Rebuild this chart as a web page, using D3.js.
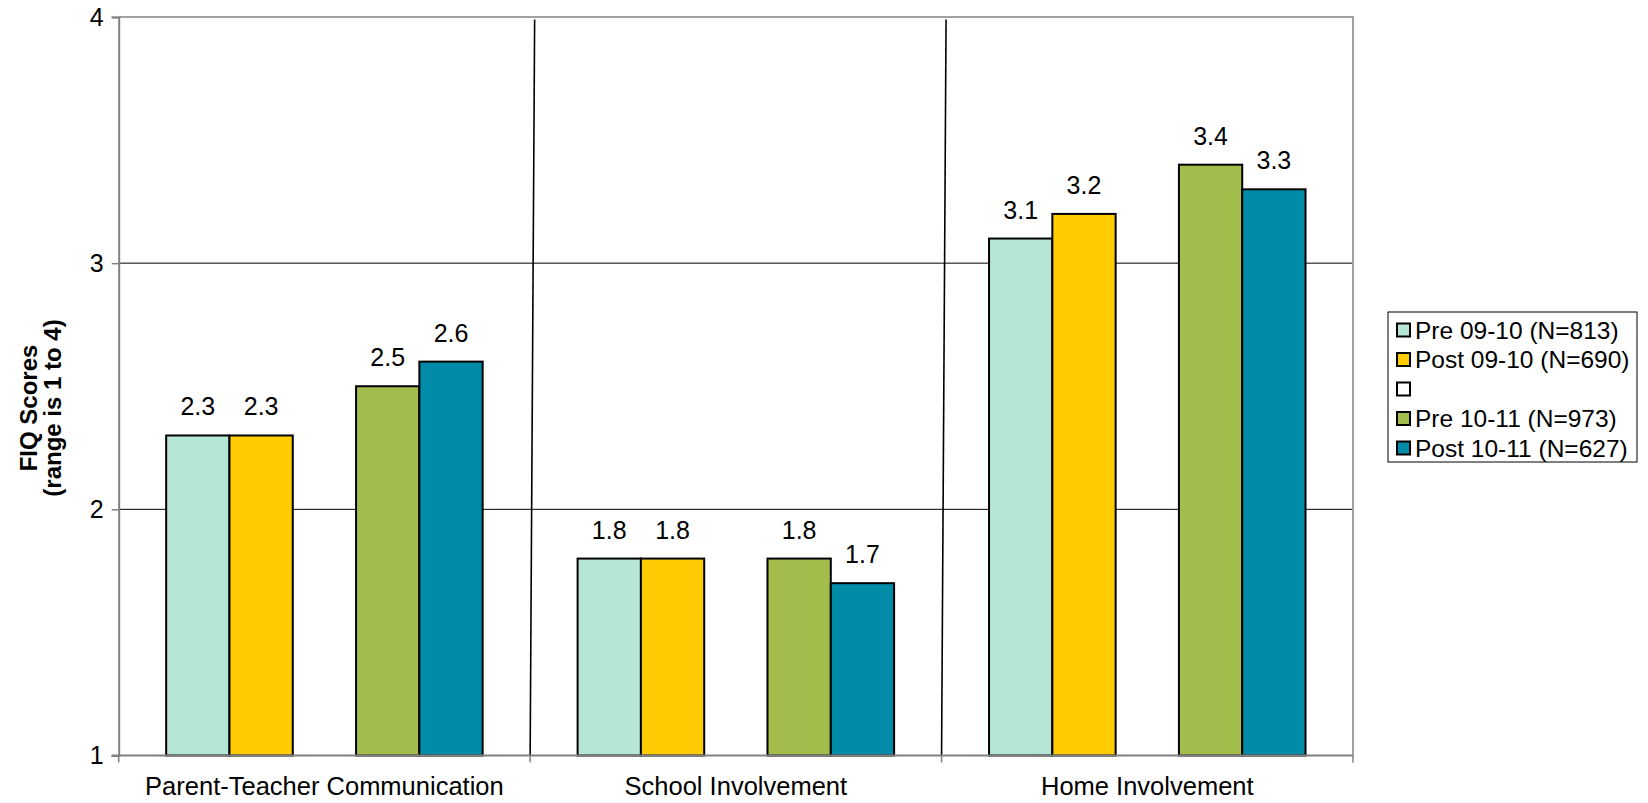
<!DOCTYPE html>
<html>
<head>
<meta charset="utf-8">
<script src="https://cdn.jsdelivr.net/npm/d3@7"></script>
<style>
  html, body { margin: 0; padding: 0; background: #fff; }
  svg { display: block; font-family: "Liberation Sans", Arial, sans-serif; }
</style>
</head>
<body>
<svg id="chart" width="1648" height="803"></svg>
<script>
// Categories along the x axis
const categories = ["Parent-Teacher Communication", "School Involvement", "Home Involvement"];

// Series names (the blank entry is an empty spacer series)
const seriesNames = ["Pre 09-10 (N=813)", "Post 09-10 (N=690)", "", "Pre 10-11 (N=973)", "Post 10-11 (N=627)"];
const seriesColors = ["#b5e6d6", "#ffcc00", "#ffffff", "#a2bd4c", "#008ba8"];

// Mean FIQ scores per series, one value per category
const pre0910  = [2.3, 1.8, 3.1];
const post0910 = [2.3, 1.8, 3.2];
const spacer   = [null, null, null];
const pre1011  = [2.5, 1.8, 3.4];
const post1011 = [2.6, 1.7, 3.3];
const seriesValues = [pre0910, post0910, spacer, pre1011, post1011];

// Y axis ticks
const yTicks = [1, 2, 3, 4];
const yTitle = ["FIQ Scores", "(range is 1 to 4)"];

const svg = d3.select("#chart");
const plot = { left: 118.7, right: 1353, top: 17, bottom: 755.5 };

const x = d3.scaleBand().domain(categories).range([plot.left, plot.right]).padding(0);
const xInner = d3.scaleBand().domain(d3.range(seriesNames.length))
  .range([0, x.bandwidth()]).paddingInner(0).paddingOuter(0.75);
const y = d3.scaleLinear().domain([1, 4]).range([plot.bottom, plot.top]);

// Horizontal gridlines
svg.append("g").selectAll("line").data(yTicks.filter(t => t > 1 && t < 4)).join("line")
  .attr("x1", plot.left).attr("x2", plot.right)
  .attr("y1", d => y(d)).attr("y2", d => y(d))
  .attr("stroke", "#000").attr("stroke-width", 1);

// Top and right plot border
svg.append("path")
  .attr("d", `M${plot.left},${y(4)}H${plot.right}V${plot.bottom}`)
  .attr("fill", "none").attr("stroke", "#a0a0a0").attr("stroke-width", 2);

// Separators between category groups
const bounds = categories.slice(1).map(c => x(c));
svg.append("g").selectAll("line").data(bounds).join("line")
  .attr("x1", d => d).attr("y1", plot.bottom)
  .attr("x2", d => d + 4.5).attr("y2", y(4) + 2.5)
  .attr("stroke", "#000").attr("stroke-width", 1.6);

// Bars
const barData = [];
seriesValues.forEach((vals, s) => {
  vals.forEach((v, c) => { if (v != null) barData.push({ s, c, v }); });
});
const bars = svg.append("g");
bars.selectAll("rect").data(barData).join("rect")
  .attr("x", d => x(categories[d.c]) + xInner(d.s))
  .attr("width", xInner.bandwidth())
  .attr("y", d => y(d.v))
  .attr("height", d => y(1) - y(d.v))
  .attr("fill", d => seriesColors[d.s])
  .attr("stroke", "#000").attr("stroke-width", 2);

// Value labels
bars.selectAll("text").data(barData).join("text")
  .attr("x", d => x(categories[d.c]) + xInner(d.s) + xInner.bandwidth() / 2)
  .attr("y", d => y(d.v) - 20)
  .attr("text-anchor", "middle")
  .attr("font-size", 25).attr("fill", "#000")
  .text(d => d3.format(".1f")(d.v));

// Y axis
const yAxis = svg.append("g").attr("transform", `translate(${plot.left},0)`)
  .call(d3.axisLeft(y).tickValues(yTicks).tickSize(7).tickPadding(8).tickFormat(d3.format("d")));
yAxis.select(".domain").attr("stroke", "#808080").attr("stroke-width", 2);
yAxis.selectAll(".tick line").attr("stroke", "#808080").attr("stroke-width", 1.5);
yAxis.selectAll("text").attr("font-size", 25).attr("fill", "#000")
  .attr("font-family", "Liberation Sans, Arial, sans-serif");

// X axis
const xAxis = svg.append("g").attr("transform", `translate(0,${plot.bottom})`);
xAxis.append("line").attr("x1", plot.left - 7).attr("x2", plot.right)
  .attr("stroke", "#808080").attr("stroke-width", 2);
const xTickPos = [plot.left, ...bounds, plot.right];
xAxis.selectAll("line.tick").data(xTickPos).join("line").attr("class", "tick")
  .attr("x1", d => d).attr("x2", d => d).attr("y1", 0).attr("y2", 7)
  .attr("stroke", "#808080").attr("stroke-width", 1.5);
xAxis.selectAll("text").data(categories).join("text")
  .attr("x", d => x(d) + x.bandwidth() / 2).attr("y", 39)
  .attr("text-anchor", "middle").attr("font-size", 25.5).attr("fill", "#000")
  .text(d => d);

// Y axis title
const yt = svg.append("text")
  .attr("transform", "translate(37,408) rotate(-90)")
  .attr("text-anchor", "middle").attr("font-size", 24).attr("font-weight", "bold");
yt.selectAll("tspan").data(yTitle).join("tspan")
  .attr("x", 0).attr("dy", (d, i) => i === 0 ? 0 : 24).text(d => d);

// Legend
const lg = svg.append("g").attr("transform", "translate(1388,312)");
lg.append("rect").attr("width", 249).attr("height", 150)
  .attr("fill", "#fff").attr("stroke", "#000").attr("stroke-width", 1);
const item = lg.selectAll("g.item").data(seriesNames).join("g").attr("class", "item")
  .attr("transform", (d, i) => `translate(0,${18 + i * 29.5})`);
item.append("rect").attr("x", 9).attr("y", -6.5).attr("width", 13).attr("height", 13)
  .attr("fill", (d, i) => seriesColors[i]).attr("stroke", "#000").attr("stroke-width", 2);
item.append("text").attr("x", 27).attr("y", 8.5).attr("font-size", 24.5).attr("fill", "#000")
  .text(d => d);
</script>
</body>
</html>
